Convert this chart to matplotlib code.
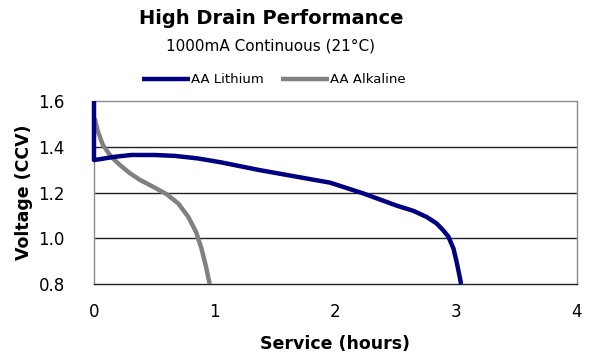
import matplotlib.pyplot as plt

# -------------------- Data --------------------
lithium_hours = [0.0, 0.0, 0.04, 0.17, 0.31, 0.50, 0.67, 0.86, 1.05, 1.37, 1.71,
                 1.955, 2.23, 2.51, 2.644, 2.755, 2.837, 2.89, 2.935, 2.977, 3.003,
                 3.023, 3.04]
lithium_volts = [1.6, 1.342, 1.345, 1.356, 1.364, 1.364, 1.36, 1.349, 1.332, 1.298, 1.266,
                 1.243, 1.196, 1.142, 1.12, 1.093, 1.065, 1.036, 1.007, 0.955, 0.897,
                 0.846, 0.80]

alkaline_hours = [0.005, 0.033, 0.074, 0.143, 0.215, 0.298, 0.381, 0.49, 0.60, 0.698,
                  0.78, 0.845, 0.89, 0.928, 0.958]
alkaline_volts = [1.524, 1.466, 1.407, 1.356, 1.32, 1.284, 1.255, 1.225, 1.193, 1.152,
                  1.094, 1.028, 0.955, 0.875, 0.80]

x_ticks = [0, 1, 2, 3, 4]
y_ticks = [0.8, 1.0, 1.2, 1.4, 1.6]

# -------------------- Plot --------------------
fig = plt.figure(figsize=(6.13, 3.6), dpi=100)
ax = fig.add_axes([94 / 613, 1 - 284 / 360, 483 / 613, 183 / 360])

for y in [1.0, 1.2, 1.4]:
    ax.axhline(y, color='#222222', lw=1.0, zorder=1)

ax.plot(alkaline_hours, alkaline_volts, color='#808080', lw=3.2,
        label='AA Alkaline', zorder=3, solid_capstyle='butt', solid_joinstyle='round')
ax.plot(lithium_hours, lithium_volts, color='#000080', lw=3.2,
        label='AA Lithium', zorder=4, solid_capstyle='butt', solid_joinstyle='round',
        clip_on=False)

ax.set_xlim(0, 4)
ax.set_ylim(0.8, 1.6)
ax.set_xticks(x_ticks)
ax.set_yticks(y_ticks)
ax.set_yticklabels(['%.1f' % v for v in y_ticks])
ax.tick_params(length=0, labelsize=12, pad=14)
ax.tick_params(axis='y', pad=21)

for side in ['top', 'right', 'left']:
    ax.spines[side].set_color('#8a8a8a')
    ax.spines[side].set_linewidth(1.0)
ax.spines['bottom'].set_color('#222222')
ax.spines['bottom'].set_linewidth(1.0)

ax.set_xlabel('Service (hours)', fontsize=12.5, fontweight='bold', labelpad=10)
ax.set_ylabel('Voltage (CCV)', fontsize=12.5, fontweight='bold', labelpad=4)

fig.text(0.442, 0.95, 'High Drain Performance', ha='center', va='center',
         fontsize=14, fontweight='bold')
fig.text(0.442, 0.872, '1000mA Continuous (21\u00b0C)', ha='center', va='center',
         fontsize=11)

handles, labels = ax.get_legend_handles_labels()
fig.legend(handles[::-1], labels[::-1], loc='center', bbox_to_anchor=(0.447, 0.778),
           ncol=2, frameon=False, fontsize=9.5, handlelength=3.6,
           handletextpad=0.1, columnspacing=1.3)

plt.savefig('out.png', dpi=100)
